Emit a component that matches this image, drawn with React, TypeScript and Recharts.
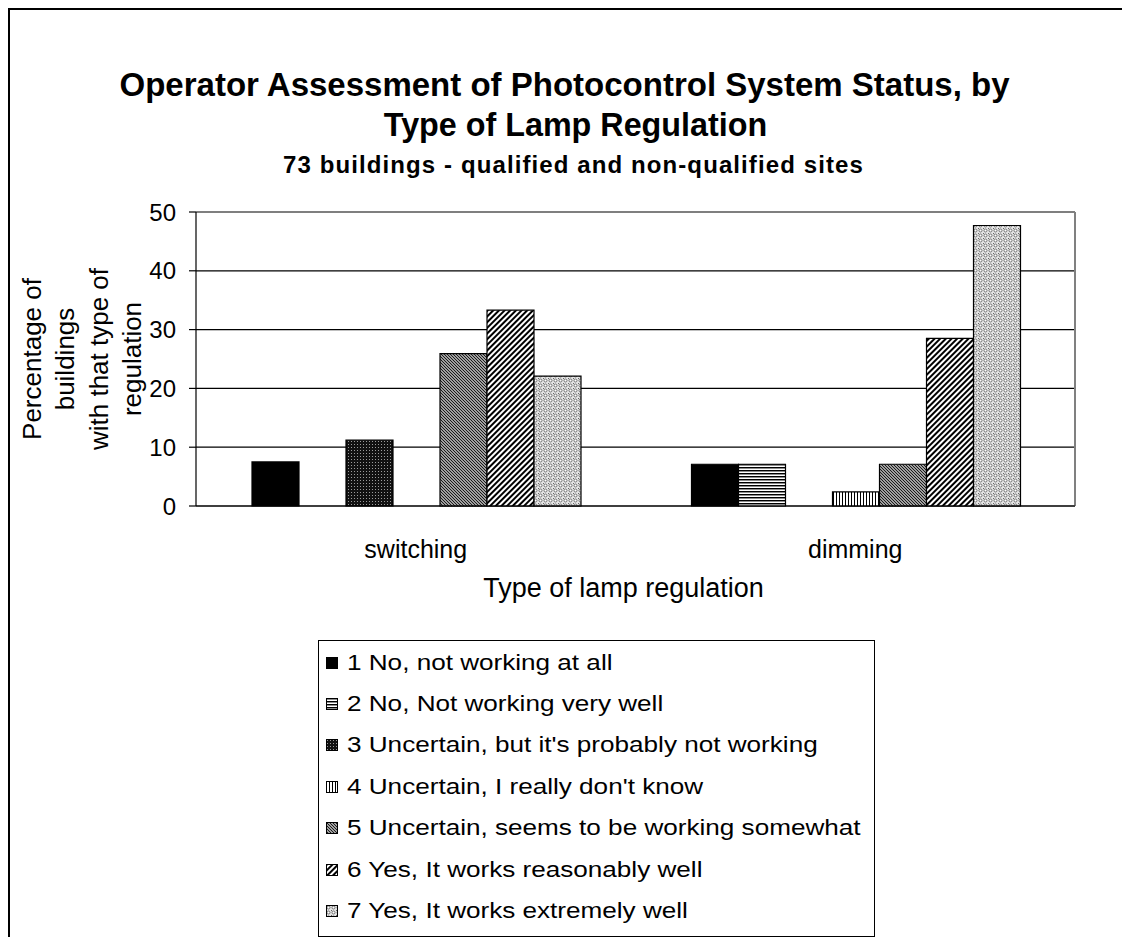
import { BarChart, Bar, XAxis, YAxis, CartesianGrid, Legend, ReferenceLine } from 'recharts'

const categories = ['switching', 'dimming']
const seriesNames = [
  '1 No, not working at all',
  '2 No, Not working very well',
  "3 Uncertain, but it's probably not working",
  "4 Uncertain, I really don't know",
  '5 Uncertain, seems to be working somewhat',
  '6 Yes, It works reasonably well',
  '7 Yes, It works extremely well',
]
const switchingValues = [7.5, 0, 11.2, 0, 25.9, 33.3, 22.1]
const dimmingValues = [7.1, 7.1, 0, 2.4, 7.1, 28.5, 47.7]
const yTicks = [0, 10, 20, 30, 40, 50]
const edgeTicks = [0, 1, 2]
const yLabelLines = ['Percentage of', 'buildings', 'with that type of', 'regulation']

const seriesKeys = seriesNames.map((_, i) => `s${i + 1}`)
const valuesByCategory = [switchingValues, dimmingValues]
const data = categories.map((category, ci) => {
  const row: Record<string, string | number> = { category }
  seriesKeys.forEach((key, si) => {
    row[key] = valuesByCategory[ci][si]
  })
  return row
})

const font = 'Arial, "Liberation Sans", sans-serif'

// black & white hatch fills, like the old Excel print patterns
function Patterns() {
  return (
    <defs>
      <pattern id="pat1" width="4" height="4" patternUnits="userSpaceOnUse">
        <rect width="4" height="4" fill="#000" />
      </pattern>
      <pattern id="pat2" width="4" height="3" patternUnits="userSpaceOnUse">
        <rect width="4" height="3" fill="#fff" />
        <rect width="4" height="1" fill="#000" />
        <rect y="1" width="4" height="1" fill="#8c8c8c" />
      </pattern>
      <pattern id="pat3" width="3" height="3" patternUnits="userSpaceOnUse">
        <rect width="3" height="3" fill="#111" />
        <rect x="1" y="1" width="1" height="1" fill="#9a9a9a" />
      </pattern>
      <pattern id="pat4" width="3" height="4" patternUnits="userSpaceOnUse">
        <rect width="3" height="4" fill="#fff" />
        <rect width="1" height="4" fill="#000" />
      </pattern>
      <pattern id="pat5" width="3" height="3" patternUnits="userSpaceOnUse">
        <rect width="3" height="3" fill="#d8d8d8" />
        <path d="M0,0 L3,3 M-1,2 L1,4 M2,-1 L4,1" stroke="#111" strokeWidth="1.1" />
      </pattern>
      <pattern id="pat6" width="4" height="4" patternUnits="userSpaceOnUse" patternTransform="rotate(45)">
        <rect width="4" height="4" fill="#fff" />
        <rect width="2" height="4" fill="#000" />
      </pattern>
      <pattern id="pat7" width="5" height="5" patternUnits="userSpaceOnUse">
        <rect width="5" height="5" fill="#e6e6e6" />
        <circle cx="2.5" cy="2.5" r="1.5" fill="#fff" stroke="#6e6e6e" strokeWidth="1" />
        <rect width="1" height="1" fill="#666" />
      </pattern>
    </defs>
  )
}

function YTitle(props: any) {
  const vb = props.viewBox
  const cx = vb.x + 66
  const cy = vb.y + vb.height / 2
  return (
    <text
      transform={`rotate(-90, ${cx}, ${cy})`}
      x={cx}
      y={cy}
      textAnchor="middle"
      fontFamily={font}
      fontSize={26}
      fill="#000"
    >
      {yLabelLines.map((line, i) => (
        <tspan key={line} x={cx} y={cy + (i - 1.5) * 33.5 + 9}>
          {line}
        </tspan>
      ))}
    </text>
  )
}

function XTitle(props: any) {
  const vb = props.viewBox
  return (
    <text
      x={vb.x + vb.width / 2 - 12}
      y={vb.y + 91}
      textAnchor="middle"
      fontFamily={font}
      fontSize={27}
      fill="#000"
    >
      Type of lamp regulation
    </text>
  )
}

function LegendBox() {
  return (
    <div
      style={{
        boxSizing: 'border-box',
        width: 557,
        height: 297,
        border: '1.5px solid #000',
        background: '#fff',
        paddingTop: 1,
        fontFamily: font,
        fontSize: 22.5,
        color: '#000',
      }}
    >
      {seriesNames.map((name, i) => (
        <div key={name} style={{ height: 41.4, display: 'flex', alignItems: 'center', whiteSpace: 'nowrap' }}>
          <svg width={12} height={12} style={{ marginLeft: 7, marginRight: 9, flex: 'none' }}>
            <rect x={0.5} y={0.5} width={11} height={11} fill={`url(#pat${i + 1})`} stroke="#000" strokeWidth={1} />
          </svg>
          <span style={{ display: 'inline-block', transform: 'scaleX(1.16)', transformOrigin: 'left center' }}>
            {name}
          </span>
        </div>
      ))}
    </div>
  )
}

const titleStyle = {
  position: 'absolute' as const,
  left: 0,
  textAlign: 'center' as const,
  fontFamily: font,
  fontWeight: 'bold' as const,
  zIndex: 1,
}

export default function App() {
  return (
    <div style={{ position: 'relative', width: 1122, height: 929, background: '#fff', overflow: 'hidden' }}>
      <div
        style={{
          position: 'absolute',
          left: 0,
          top: 0,
          width: 1400,
          height: 1200,
          borderTop: '2px solid #000',
          borderLeft: '2px solid #000',
          pointerEvents: 'none',
          zIndex: 2,
        }}
      />
      <div style={{ ...titleStyle, width: 1113, top: 57, fontSize: 33, lineHeight: '40px' }}>
        Operator Assessment of Photocontrol System Status, by
      </div>
      <div style={{ ...titleStyle, width: 1135, top: 97, fontSize: 32.3, lineHeight: '40px' }}>
        Type of Lamp Regulation
      </div>
      <div style={{ ...titleStyle, width: 1131, top: 142, fontSize: 24, letterSpacing: 1.1, lineHeight: '30px' }}>
        73 buildings - qualified and non-qualified sites
      </div>
      <BarChart
        width={1122}
        height={929}
        data={data}
        margin={{ top: 204, right: 55, left: 8, bottom: 331 }}
        barCategoryGap={56}
        barGap={0}
      >
        <Patterns />
        <CartesianGrid xAxisId="cat" vertical={false} stroke="#000" strokeWidth={1.2} />
        {/* number axis only used for the tick marks on the category boundaries */}
        <XAxis
          xAxisId="edge"
          type="number"
          domain={[0, 2]}
          ticks={edgeTicks}
          allowDataOverflow
          interval={0}
          height={0}
          axisLine={false}
          tick={false}
          tickSize={8}
          tickLine={{ stroke: '#000', strokeWidth: 1.2 }}
        />
        <XAxis
          xAxisId="cat"
          dataKey="category"
          height={100}
          axisLine={{ stroke: '#000', strokeWidth: 1.2 }}
          tickLine={false}
          tickSize={0}
          tickMargin={34}
          tick={{ fill: '#000', fontSize: 25, fontFamily: font }}
          label={{ content: XTitle }}
        />
        <YAxis
          domain={[0, 50]}
          ticks={yTicks}
          width={180}
          tickSize={7}
          tickMargin={13}
          axisLine={{ stroke: '#000', strokeWidth: 1.2 }}
          tickLine={{ stroke: '#000', strokeWidth: 1.2 }}
          tick={{ fill: '#000', fontSize: 24, fontFamily: font }}
          label={{ content: YTitle }}
        />
        <ReferenceLine xAxisId="cat" x="dimming" position="end" stroke="#808080" strokeWidth={2} />
        <Legend
          layout="vertical"
          align="center"
          verticalAlign="middle"
          wrapperStyle={{ left: 310, top: 632, width: 557, height: 297 }}
          content={LegendBox}
        />
        {seriesKeys.map((key, i) => (
          <Bar
            key={key}
            xAxisId="cat"
            dataKey={key}
            name={seriesNames[i]}
            fill={`url(#pat${i + 1})`}
            stroke="#000"
            strokeWidth={1.2}
            isAnimationActive={false}
          />
        ))}
      </BarChart>
    </div>
  )
}
